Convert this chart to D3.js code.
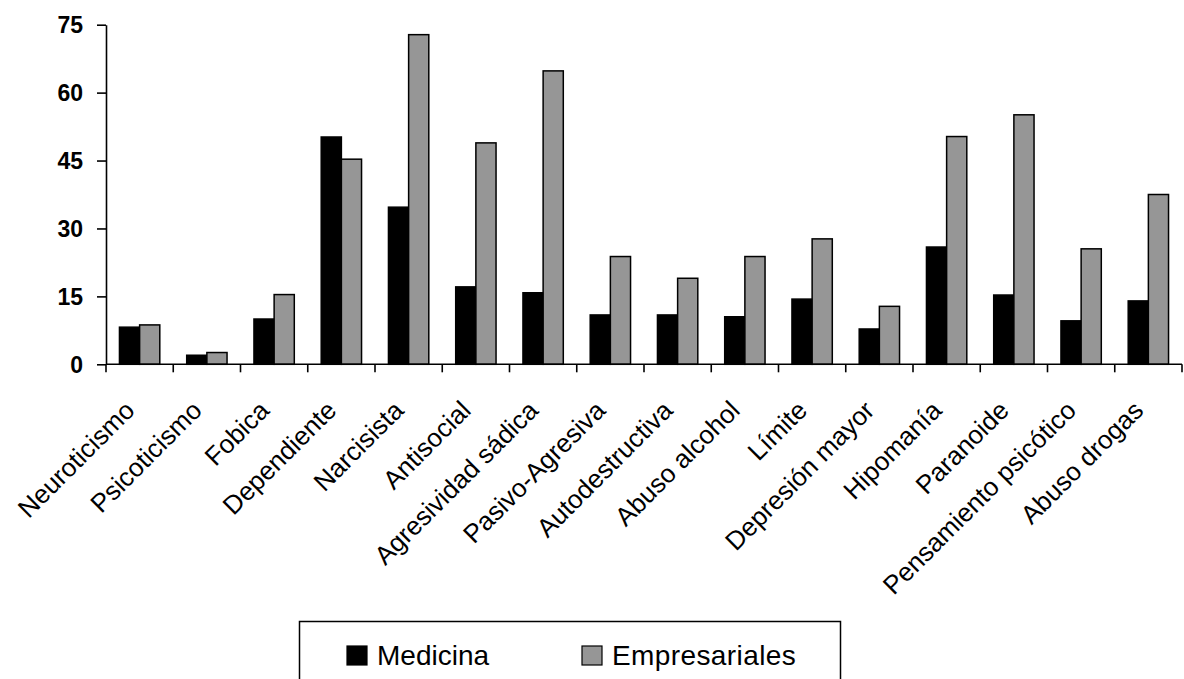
<!DOCTYPE html>
<html>
<head>
<meta charset="utf-8">
<script src="https://cdn.jsdelivr.net/npm/d3@7.9.0/dist/d3.min.js"></script>
<style>
  html, body { margin: 0; padding: 0; background: #fff; }
  svg { display: block; font-family: Arial, 'Liberation Sans', sans-serif; }
</style>
</head>
<body>
<svg id="chart" width="1184" height="679"></svg>
<script>
const categories = [
  'Neuroticismo', 'Psicoticismo', 'Fobica', 'Dependiente', 'Narcisista',
  'Antisocial', 'Agresividad sádica', 'Pasivo-Agresiva', 'Autodestructiva',
  'Abuso alcohol', 'Límite', 'Depresión mayor', 'Hipomanía', 'Paranoide',
  'Pensamiento psicótico', 'Abuso drogas'
];
const seriesNames = ['Medicina', 'Empresariales'];
const medicina = [8.2, 2.0, 10.0, 50.2, 34.7, 17.1, 15.8, 10.9, 10.9, 10.5, 14.4, 7.8, 25.9, 15.3, 9.6, 14.0];
const empresariales = [8.7, 2.6, 15.4, 45.3, 72.8, 48.9, 64.8, 23.8, 19.0, 23.8, 27.7, 12.8, 50.3, 55.1, 25.5, 37.5];
const yTicks = [0, 15, 30, 45, 60, 75];
const seriesColors = ['#000000', '#969696'];

const svg = d3.select('#chart');
const margin = { left: 106, right: 1182, top: 24.7, bottom: 364.3 };

const x = d3.scaleBand().domain(categories).range([margin.left, margin.right]);
const xInner = d3.scaleBand().domain(seriesNames).range([0, x.bandwidth()]).paddingOuter(0.667);
const y = d3.scaleLinear().domain([0, 75]).range([margin.bottom, margin.top]);

const rows = categories.map((c, i) => ({ cat: c, values: [medicina[i], empresariales[i]] }));

// bars
const groups = svg.append('g')
  .selectAll('g')
  .data(rows)
  .join('g')
  .attr('transform', (d) => `translate(${x(d.cat)},0)`);

groups.selectAll('rect')
  .data((d) => d.values.map((v, i) => ({ key: seriesNames[i], value: v, idx: i })))
  .join('rect')
  .attr('x', (d) => xInner(d.key))
  .attr('width', xInner.bandwidth())
  .attr('y', (d) => y(d.value))
  .attr('height', (d) => y(0) - y(d.value))
  .attr('fill', (d) => seriesColors[d.idx])
  .attr('stroke', '#000')
  .attr('stroke-width', 1.5);

// y axis
const yAxis = svg.append('g')
  .attr('transform', `translate(${margin.left},0)`)
  .call(d3.axisLeft(y).tickValues(yTicks).tickSize(9).tickPadding(14).tickSizeOuter(0));
yAxis.select('.domain').attr('stroke', '#000').attr('stroke-width', 1.6);
yAxis.selectAll('.tick line').attr('stroke', '#000').attr('stroke-width', 1.6);
yAxis.selectAll('.tick text')
  .attr('fill', '#000')
  .attr('dy', '0.36em')
  .style('font-size', '23px')
  .style('font-weight', 'bold')
  .style('font-family', 'Arial, "Liberation Sans", sans-serif');

// x axis: ticks at band boundaries
const xAxis = svg.append('g').attr('transform', `translate(0,${margin.bottom})`);
xAxis.append('line')
  .attr('x1', margin.left).attr('x2', margin.right)
  .attr('stroke', '#000').attr('stroke-width', 1.6);
const boundaries = categories.map((c) => x(c)).concat([margin.right]);
xAxis.selectAll('line.tick')
  .data(boundaries)
  .join('line')
  .attr('class', 'tick')
  .attr('x1', (d) => d).attr('x2', (d) => d)
  .attr('y1', 0).attr('y2', 8)
  .attr('stroke', '#000').attr('stroke-width', 1.6);

xAxis.selectAll('text')
  .data(categories)
  .join('text')
  .attr('transform', (d) => `translate(${x(d) + x.bandwidth() / 2 - 3.5},${412 - margin.bottom}) rotate(-45)`)
  .attr('text-anchor', 'end')
  .style('font-size', '26px')
  .attr('fill', '#000')
  .text((d) => d);

// legend
const legend = svg.append('g');
legend.append('rect')
  .attr('x', 299.5).attr('y', 621.5)
  .attr('width', 541).attr('height', 80)
  .attr('fill', '#fff').attr('stroke', '#000').attr('stroke-width', 1.5);

const legendPos = [347, 582];
seriesNames.forEach((name, i) => {
  legend.append('rect')
    .attr('x', legendPos[i]).attr('y', 646)
    .attr('width', 20).attr('height', 19)
    .attr('fill', seriesColors[i])
    .attr('stroke', '#000').attr('stroke-width', 1.2);
  legend.append('text')
    .attr('x', legendPos[i] + 30).attr('y', 665)
    .style('font-size', '28px')
    .style('letter-spacing', i === 1 ? '0.4px' : '0px')
    .attr('fill', '#000')
    .text(name);
});
</script>
</body>
</html>
